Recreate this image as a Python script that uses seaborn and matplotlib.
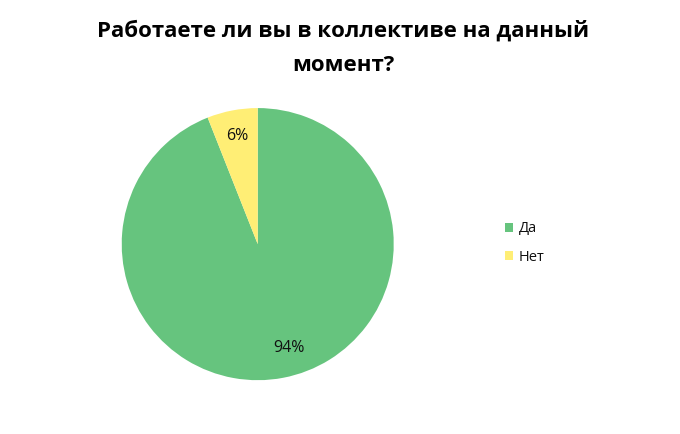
import matplotlib
matplotlib.use("Agg")
import numpy as np
import matplotlib.pyplot as plt
import seaborn as sns
from matplotlib.patches import Patch

labels = ["Да", "Нет"]
shares = [94, 6]
colors = ["#66C47E", "#FFEE75"]
title = "Работаете ли вы в коллективе на данный\nмомент?"

sns.set_theme(style="white")
plt.rcParams["font.family"] = ["Open Sans", "DejaVu Sans"]

fig = plt.figure(figsize=(6.8, 4.34), dpi=100)
ax = fig.add_axes([0.179, 0.124, 0.4, 0.627])
wedges, _, pcts = ax.pie(shares, colors=colors, startangle=90, counterclock=False,
                         autopct="%d%%", pctdistance=0.81, radius=1,
                         wedgeprops={"linewidth": 0},
                         textprops={"fontsize": 11.5, "color": "#111111"})
# the big slice's label sits a little off the middle, as in the original
w = wedges[0]
ang = np.deg2rad((w.theta1 + w.theta2) / 2 + 6)
pcts[0].set_position((0.8 * np.cos(ang), 0.8 * np.sin(ang)))

ax.set_xlim(-1, 1)
ax.set_ylim(-1, 1)
ax.set_aspect("auto")
ax.axis("off")

fig.text(0.505, 0.955, title, ha="center", va="top", fontsize=16,
         fontweight="bold", linespacing=1.85, color="black")

handles = [Patch(facecolor=c, edgecolor="none") for c in colors]
fig.legend(handles, labels, loc="center left", bbox_to_anchor=(0.7235, 0.44),
           frameon=False, fontsize=10.5, handlelength=0.55, handleheight=0.55,
           labelspacing=0.9, handletextpad=0.4,
           labelcolor="#111111")

fig.savefig("out.png", dpi=100)
